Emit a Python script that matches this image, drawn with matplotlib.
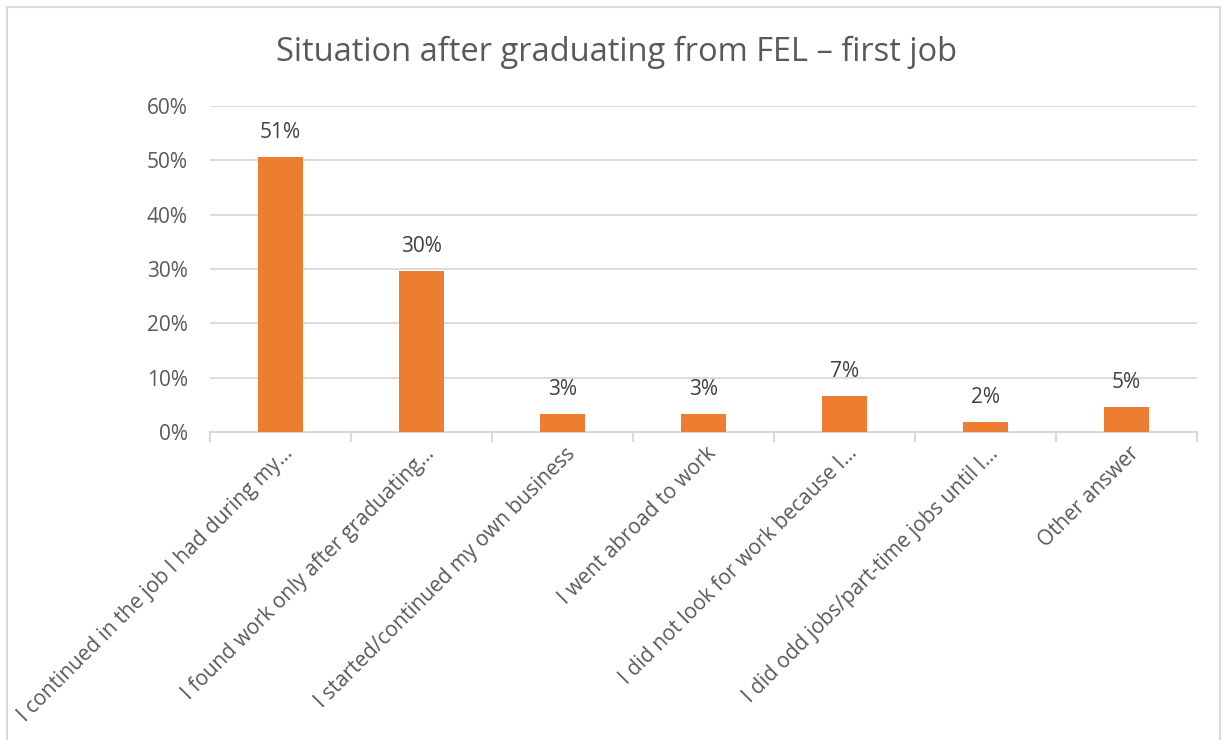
import matplotlib
matplotlib.use("Agg")
import matplotlib.pyplot as plt
from matplotlib.patches import Rectangle
from matplotlib.ticker import FuncFormatter
from matplotlib.transforms import ScaledTranslation

plt.rcParams['font.family'] = ['Open Sans', 'DejaVu Sans']

categories = [
    "I continued in the job I had during my…",
    "I found work only after graduating…",
    "I started/continued my own business",
    "I went abroad to work",
    "I did not look for work because I…",
    "I did odd jobs/part-time jobs until I…",
    "Other answer",
]
shares = [0.506, 0.296, 0.034, 0.034, 0.066, 0.018, 0.046]
yticks = [0.0, 0.1, 0.2, 0.3, 0.4, 0.5, 0.6]
title = "Situation after graduating from FEL – first job"

bar_color = "#ED7D31"
text_color = "#595959"
grid_color = "#D9D9D9"

W, H = 1225, 740
fig = plt.figure(figsize=(W / 100, H / 100), dpi=100)

# outer chart frame
fig.patches.append(Rectangle((7 / W, -0.01), (1220 - 7) / W, (H - 7) / H + 0.01,
                             transform=fig.transFigure, fill=False,
                             edgecolor=grid_color, linewidth=1.5))

ax = fig.add_axes([210 / W, 1 - 432 / H, (1197 - 210) / W, (432 - 106) / H])

x = range(len(categories))
ax.bar(x, shares, width=0.32, color=bar_color, zorder=3)
ax.set_xlim(-0.5, len(categories) - 0.5)
ax.set_ylim(0, 0.6)
ax.set_yticks(yticks)
ax.yaxis.set_major_formatter(FuncFormatter(lambda v, _: f"{v * 100:.0f}%"))
ax.grid(axis='y', color=grid_color, linewidth=1.3, zorder=0)

for side in ('top', 'right', 'left'):
    ax.spines[side].set_visible(False)
ax.spines['bottom'].set_color(grid_color)
ax.spines['bottom'].set_linewidth(1.5)

ax.tick_params(axis='y', length=0, labelsize=15, labelcolor=text_color, pad=16)
ax.set_xticks(list(x))
ax.set_xticklabels(categories, rotation=45, ha='right', rotation_mode='anchor',
                   fontsize=15, color=text_color)
ax.tick_params(axis='x', length=0, pad=8)
shift = ScaledTranslation(2 / 100, 0, fig.dpi_scale_trans)
for lbl in ax.get_xticklabels():
    lbl.set_transform(lbl.get_transform() + shift)

# boundary tick marks between categories
for b in [i - 0.5 for i in range(len(categories) + 1)]:
    ax.plot([b, b], [0, -0.016], color=grid_color, linewidth=1.5,
            clip_on=False, zorder=2)

for i, v in enumerate(shares):
    ax.annotate(f"{v * 100:.0f}%", (i, v), xytext=(0, 10), textcoords='offset points',
                ha='center', va='bottom', fontsize=15, color="#404040")

fig.text(617 / W, 1 - 52 / H, title, ha='center', va='center',
         fontsize=23.5, color=text_color)

fig.savefig("out.png", dpi=100)
